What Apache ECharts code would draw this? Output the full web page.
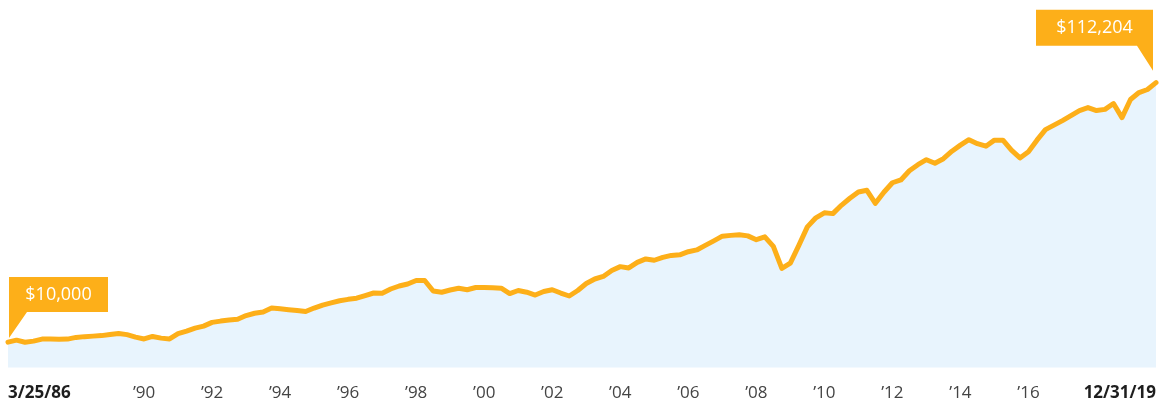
<!DOCTYPE html>
<html>
<head>
<meta charset="utf-8">
<script src="https://cdn.jsdelivr.net/npm/echarts@6/dist/echarts.min.js"></script>
<style>
html,body{margin:0;padding:0;background:#fff;}
#chart{width:1163px;height:402px;}
</style>
</head>
<body>
<div id="chart"></div>
<script>
// Quarterly categories, 1986 Q1 .. 2019 Q4
const startYear = 1986, endYear = 2019;
const categories = [];
for (let y = startYear; y <= endYear; y++) {
  for (let q = 1; q <= 4; q++) categories.push(y + 'Q' + q);
}

// Growth of $10,000
const values = [
  10000, 10780, 9950, 10390, 11180, 11180, 11100, 11180, 11850, 12160,
  12360, 12560, 13030, 13430, 12950, 11970, 11250, 12240, 11570, 11250,
  13350, 14330, 15520, 16310, 17770, 18280, 18680, 18990, 20460, 21360,
  21840, 23420, 23100, 22750, 22430, 22040, 23420, 24600, 25470, 26300,
  26850, 27290, 28350, 29340, 29260, 30920, 32110, 32900, 34280, 34280,
  30130, 29660, 30530, 31200, 30640, 31510, 31510, 31390, 31240, 29140,
  30330, 29660, 28550, 29930, 30640, 29340, 28160, 30330, 33090, 34870,
  35860, 38230, 39730, 39210, 41390, 42770, 42250, 43360, 44150, 44390,
  45610, 46320, 48100, 49880, 51730, 52050, 52280, 51850, 50350, 51460,
  47700, 39020, 41150, 48100, 55400, 58960, 60930, 60620, 63890, 66660,
  69150, 69820, 64690, 69030, 72780, 73890, 77520, 79890, 81860, 80480,
  82260, 85220, 87590, 89760, 88180, 87190, 89560, 89560, 85610, 82570,
  85020, 89560, 93710, 95490, 97260, 99240, 101210, 102400, 101210, 101690,
  103980, 98450, 105560, 108320, 109510, 112204
];

// Tick labels on the time axis
const tickCats  = ['1986Q1','1990Q1','1992Q1','1994Q1','1996Q1','1998Q1','2000Q1','2002Q1','2004Q1','2006Q1','2008Q1','2010Q1','2012Q1','2014Q1','2016Q1','2019Q4'];
const tickTexts = ['3/25/86','\u201990','\u201992','\u201994','\u201996','\u201998','\u201900','\u201902','\u201904','\u201906','\u201908','\u201910','\u201912','\u201914','\u201916','12/31/19'];

// Callout texts
const startLabel = '$10,000';
const endLabel = '$112,204';

const ORANGE = '#FDAF19';
const FILL = '#E8F4FD';
const FONT = '"Open Sans", "Noto Sans", sans-serif';

const tickMap = {};
tickCats.forEach((c, i) => { tickMap[c] = tickTexts[i]; });

const chart = echarts.init(document.getElementById('chart'), null, {renderer: 'canvas'});
chart.setOption({
  animation: false,
  grid: {left: 8, right: 7, top: 37.5, bottom: 34.5, containLabel: false},
  xAxis: {
    type: 'category',
    data: categories,
    boundaryGap: false,
    axisLine: {show: false},
    axisTick: {show: false},
    splitLine: {show: false},
    axisLabel: {
      interval: function (idx, val) { return tickMap[val] !== undefined; },
      showMinLabel: true,
      showMaxLabel: true,
      alignMinLabel: 'left',
      alignMaxLabel: 'right',
      margin: 17,
      fontFamily: FONT,
      fontSize: 17,
      color: '#444',
      formatter: function (val) {
        const t = tickMap[val];
        if (t === undefined) return '';
        if (val === tickCats[0] || val === tickCats[tickCats.length - 1]) return '{b|' + t + '}';
        return t;
      },
      rich: {
        b: {fontFamily: FONT, fontSize: 17, fontWeight: 'bold', color: '#1e1e1e'}
      }
    }
  },
  yAxis: {
    type: 'value',
    min: 0,
    max: 130000,
    show: false,
    splitLine: {show: false}
  },
  series: [{
    type: 'line',
    data: values,
    symbol: 'none',
    smooth: false,
    lineStyle: {color: ORANGE, width: 5, join: 'round', cap: 'round'},
    areaStyle: {color: FILL, opacity: 1},
    z: 2,
    markPoint: {
      silent: true,
      data: [
        {
          coord: [categories[0], values[0]],
          symbol: 'path://M0,0H99V35H18L0,61Z',
          symbolSize: [99, 61],
          symbolKeepAspect: false,
          symbolOffset: [50.5, -34.5],
          itemStyle: {color: ORANGE},
          label: {
            show: true, position: 'inside', offset: [0, -13],
            formatter: startLabel, color: '#fff', fontFamily: FONT, fontSize: 18
          }
        },
        {
          coord: [categories[categories.length - 1], values[values.length - 1]],
          symbol: 'path://M0,0H117V61L101,36H0Z',
          symbolSize: [117, 61],
          symbolKeepAspect: false,
          symbolOffset: [-61.5, -42.5],
          itemStyle: {color: ORANGE},
          label: {
            show: true, position: 'inside', offset: [0, -12.5],
            formatter: endLabel, color: '#fff', fontFamily: FONT, fontSize: 18
          }
        }
      ]
    }
  }]
});
</script>
</body>
</html>
